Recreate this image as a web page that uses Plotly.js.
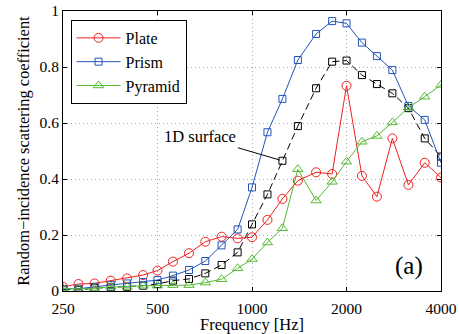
<!DOCTYPE html>
<html>
<head>
<meta charset="utf-8">
<script src="https://cdn.plot.ly/plotly-3.0.1.min.js"></script>
<style>
  html, body { margin: 0; padding: 0; background: #fff; }
  #chart { width: 459px; height: 334px; }
</style>
</head>
<body>
<div id="chart"></div>
<script>
// One-sixth-octave band centre frequencies [Hz]
const freq = [250, 280, 315, 355, 400, 450, 500, 560, 630, 710, 800, 900, 1000,
              1120, 1250, 1400, 1600, 1800, 2000, 2240, 2500, 2800, 3150, 3550, 4000];

// Random-incidence scattering coefficients
const plate   = [0.015, 0.025, 0.027, 0.037, 0.045, 0.057, 0.073, 0.105, 0.135, 0.176, 0.194, 0.188, 0.192,
                 0.254, 0.329, 0.394, 0.424, 0.418, 0.733, 0.411, 0.337, 0.545, 0.379, 0.458, 0.405];
const prism   = [0.007, 0.008, 0.015, 0.021, 0.027, 0.032, 0.039, 0.055, 0.075, 0.107, 0.163, 0.220, 0.370,
                 0.567, 0.686, 0.825, 0.918, 0.964, 0.956, 0.887, 0.839, 0.789, 0.661, 0.611, 0.458];
const pyramid = [0.010, 0.007, 0.010, 0.015, 0.015, 0.019, 0.019, 0.021, 0.021, 0.030, 0.042, 0.081, 0.114,
                 0.173, 0.224, 0.435, 0.323, 0.390, 0.462, 0.533, 0.554, 0.602, 0.655, 0.694, 0.736];
const surface1D = [0.006, 0.004, 0.010, 0.013, 0.015, 0.019, 0.025, 0.037, 0.043, 0.063, 0.093, 0.138, 0.238,
                   0.345, 0.465, 0.589, 0.724, 0.819, 0.823, 0.771, 0.739, 0.706, 0.653, 0.545, 0.480];

const xTicks = [250, 500, 1000, 2000, 4000];
const yTicks = [0, 0.2, 0.4, 0.6, 0.8, 1];

const serif = '"Liberation Serif", serif';

const traces = [
  {
    x: freq, y: surface1D, name: '1D surface', showlegend: false,
    mode: 'lines+markers', type: 'scatter',
    line: { color: '#000000', width: 1, dash: '7px,4px' },
    marker: { symbol: 'square-open', size: 7, color: '#000000', line: { width: 1 } }
  },
  {
    x: freq, y: plate, name: 'Plate',
    mode: 'lines+markers', type: 'scatter',
    line: { color: '#f02020', width: 1 },
    marker: { symbol: 'circle-open', size: 9, color: '#f02020', line: { width: 1 } }
  },
  {
    x: freq, y: prism, name: 'Prism',
    mode: 'lines+markers', type: 'scatter',
    line: { color: '#2255bb', width: 1 },
    marker: { symbol: 'square-open', size: 7, color: '#2255bb', line: { width: 1 } }
  },
  {
    x: freq, y: pyramid, name: 'Pyramid',
    mode: 'lines+markers', type: 'scatter',
    line: { color: '#55bb33', width: 1 },
    marker: { symbol: 'triangle-up-open', size: 9, color: '#55bb33', line: { width: 1 } }
  }
];

const layout = {
  width: 459, height: 334,
  margin: { l: 63, r: 18, t: 11, b: 43 },
  paper_bgcolor: '#ffffff', plot_bgcolor: '#ffffff',
  font: { family: serif, size: 16, color: '#000' },
  showlegend: true,
  legend: {
    x: 0.02, y: 0.968, xanchor: 'left', yanchor: 'top',
    bgcolor: '#ffffff', bordercolor: '#000000', borderwidth: 1,
    font: { family: serif, size: 16 },
    tracegroupgap: 0, itemwidth: 44
  },
  xaxis: {
    type: 'log',
    range: [Math.log10(250), Math.log10(4000)],
    tickvals: xTicks, ticktext: xTicks.map(String),
    ticks: 'inside', ticklen: 4, tickcolor: '#000',
    showline: true, linecolor: '#000', linewidth: 1, mirror: 'ticks',
    showgrid: true, gridcolor: '#aaa', griddash: '1px,3px', gridwidth: 1,
    zeroline: false,
    tickfont: { family: serif, size: 15.5 },
    ticklabelstandoff: 3,
    title: { text: 'Frequency [Hz]', font: { family: serif, size: 16.5 }, standoff: 1 }
  },
  yaxis: {
    range: [0, 1],
    tickvals: yTicks, ticktext: ['0', '0.2', '0.4', '0.6', '0.8', '1'],
    ticks: 'inside', ticklen: 4, tickcolor: '#000',
    showline: true, linecolor: '#000', linewidth: 1, mirror: 'ticks',
    showgrid: true, gridcolor: '#aaa', griddash: '1px,3px', gridwidth: 1,
    zeroline: false,
    tickfont: { family: serif, size: 15.5 },
    title: { text: 'Random\u2212incidence scattering coefficient', font: { family: serif, size: 16.4 }, standoff: 5 }
  },
  annotations: [
    {
      x: Math.log10(freq[14]), y: surface1D[14], xref: 'x', yref: 'y',
      text: '1D surface', showarrow: true, arrowhead: 0, arrowwidth: 1, arrowcolor: '#000',
      ax: -82, ay: -24, standoff: 3,
      font: { family: serif, size: 16.5, color: '#000' }
    },
    {
      x: 0.915, y: 0.09, xref: 'paper', yref: 'paper',
      xanchor: 'center', yanchor: 'middle',
      text: '(a)', showarrow: false,
      font: { family: serif, size: 25, color: '#000' }
    }
  ]
};

Plotly.newPlot('chart', traces, layout, { displayModeBar: false, staticPlot: true });
</script>
</body>
</html>
